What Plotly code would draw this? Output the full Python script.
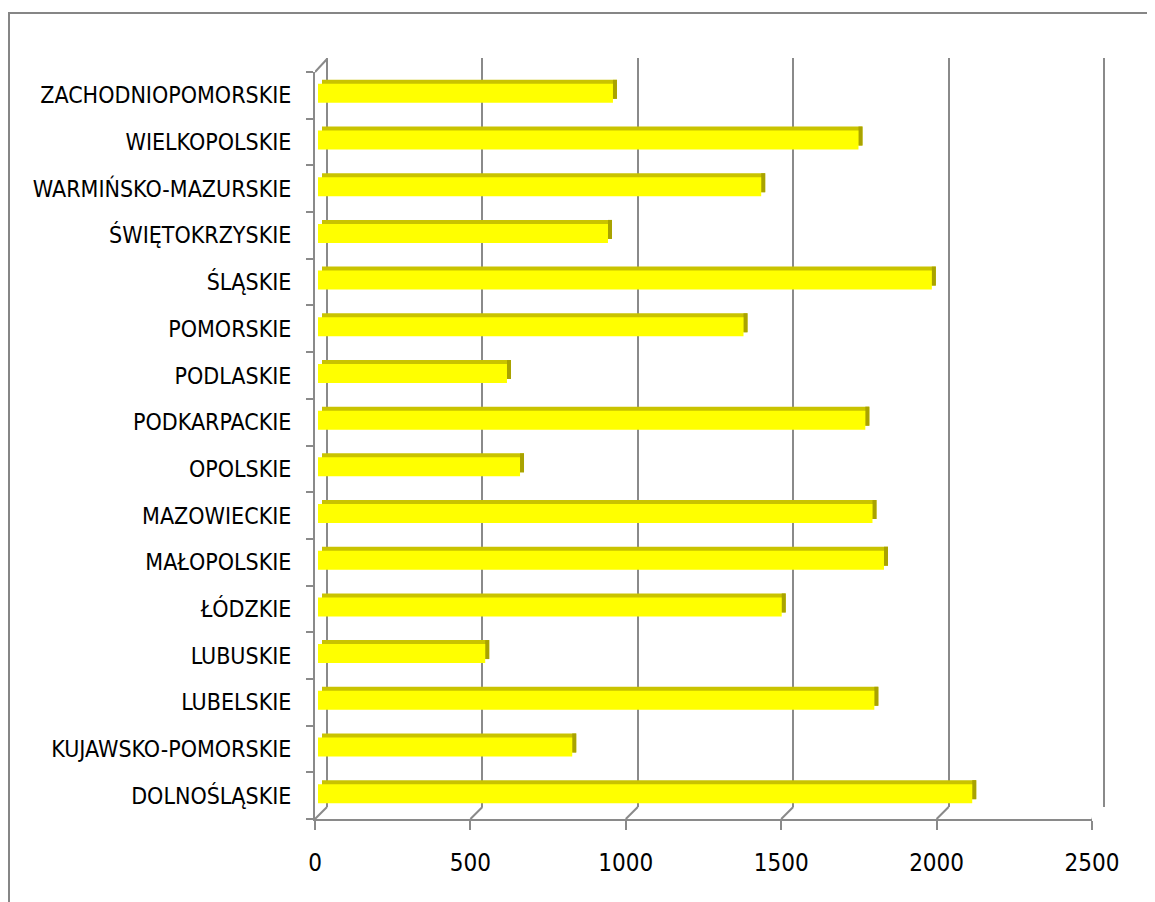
import plotly.graph_objects as go

# ---- data (bottom to top, as drawn) ----
categories = ["DOLNOŚLĄSKIE", "KUJAWSKO-POMORSKIE", "LUBELSKIE", "LUBUSKIE", "ŁÓDZKIE",
              "MAŁOPOLSKIE", "MAZOWIECKIE", "OPOLSKIE", "PODKARPACKIE", "PODLASKIE",
              "POMORSKIE", "ŚLĄSKIE", "ŚWIĘTOKRZYSKIE", "WARMIŃSKO-MAZURSKIE",
              "WIELKOPOLSKIE", "ZACHODNIOPOMORSKIE"]
values = [2105, 818, 1790, 538, 1492, 1821, 1784, 650, 1761, 608,
          1369, 1975, 933, 1426, 1739, 949]
x_ticks = [0, 500, 1000, 1500, 2000, 2500]
x_tick_labels = ["0", "500", "1000", "1500", "2000", "2500"]

# ---- geometry (screen pixels) ----
BODY = 8                          # default page margin of the browser
W, H = 1155 - BODY, 902 - BODY    # figure size
FRONT_L, FRONT_R = 315, 1092      # front plane x for 0 and 2500
FRONT_T, FRONT_B = 72, 819        # front plane y extent
DEPTH = 12                        # 3D depth offset in px
BAR_SHIFT = 3                     # bars sit slightly behind front plane
XMAX = 2500
k = (FRONT_R - FRONT_L) / XMAX    # px per unit

def fx(px):
    return (px - BODY) / W

def fy(py):
    return 1 - (py - BODY) / H

FONT = "Liberation Sans Narrow, Arial Narrow, DejaVu Sans Condensed, sans-serif"
GRID = "#8a8a8a"

slot = (FRONT_B - FRONT_T) / len(categories)
face_h = 19 / slot
face_off = 2 / slot - face_h / 2
top_off = face_off + 4 / slot
depth_units = 4 / k
n = len(values)

fig = go.Figure()

# invisible trace so the back-wall subplot is drawn
fig.add_trace(go.Scatter(x=[None], y=[None], xaxis="x", yaxis="y",
                         mode="markers", showlegend=False, hoverinfo="skip"))

# top face of the 3D bars
fig.add_trace(go.Bar(y=categories, x=values, base=[depth_units] * n, orientation="h",
                     xaxis="x3", yaxis="y2", width=face_h, offset=top_off,
                     marker=dict(color="#c9c300", line=dict(width=0)),
                     showlegend=False))
# side face
fig.add_trace(go.Bar(y=categories, x=[depth_units] * n, base=values, orientation="h",
                     xaxis="x3", yaxis="y2", width=face_h, offset=top_off,
                     marker=dict(color="#a9a300", line=dict(width=0)),
                     showlegend=False))
# front face
fig.add_trace(go.Bar(y=categories, x=values, orientation="h",
                     xaxis="x3", yaxis="y2", width=face_h, offset=face_off,
                     marker=dict(color="#ffff00", line=dict(width=0)),
                     showlegend=False))

pad = 25
shapes = []
# outer chart border (top and left visible)
shapes.append(dict(type="rect", xref="paper", yref="paper",
                   x0=fx(9), x1=fx(1200), y0=fy(950), y1=fy(13),
                   line=dict(color="#868686", width=2), layer="below"))
# floor slants at each x tick
for v in x_ticks:
    shapes.append(dict(type="line", xref="x2", yref="paper",
                       x0=v, y0=fy(FRONT_B), x1=v + DEPTH / k, y1=fy(FRONT_B - DEPTH),
                       line=dict(color=GRID, width=2)))
# side wall slant at top-left
shapes.append(dict(type="line", xref="x2", yref="paper",
                   x0=0, y0=fy(FRONT_T), x1=DEPTH / k, y1=fy(FRONT_T - 13),
                   line=dict(color=GRID, width=2)))

fig.update_layout(
    template="none",
    width=W, height=H, autosize=False,
    margin=dict(l=0, r=0, t=0, b=0, pad=0),
    paper_bgcolor="white", plot_bgcolor="rgba(0,0,0,0)",
    barmode="overlay", showlegend=False,
    font=dict(family=FONT, color="#000000"),
    # back wall gridlines
    xaxis=dict(domain=[fx(FRONT_L + DEPTH - pad * k), fx(FRONT_R + DEPTH + pad * k)],
               range=[-pad, XMAX + pad], anchor="y",
               tickvals=x_ticks, showticklabels=False, ticks="",
               showgrid=True, gridcolor=GRID, gridwidth=2,
               zeroline=False, showline=False, fixedrange=True),
    yaxis=dict(domain=[fy(FRONT_B - DEPTH), fy(FRONT_T - 14)], range=[0, 1], anchor="x",
               visible=False, showgrid=False, zeroline=False, fixedrange=True),
    # front axes
    xaxis2=dict(domain=[fx(FRONT_L), fx(FRONT_R)], range=[0, XMAX], anchor="y2",
                tickvals=x_ticks, ticktext=x_tick_labels,
                ticks="outside", ticklen=9, tickwidth=2, tickcolor=GRID,
                showline=True, linecolor=GRID, linewidth=2,
                showgrid=False, zeroline=False,
                tickfont=dict(size=24, family=FONT, color="#000000"),
                ticklabelstandoff=12, automargin=False, fixedrange=True),
    yaxis2=dict(domain=[fy(FRONT_B), fy(FRONT_T)], anchor="x2", type="category",
                categoryorder="array", categoryarray=categories,
                range=[-0.5, len(categories) - 0.5],
                ticks="outside", ticklen=7, tickwidth=2, tickcolor=GRID,
                tickson="boundaries",
                showline=True, linecolor=GRID, linewidth=2,
                showgrid=False, zeroline=False,
                tickfont=dict(size=23, family=FONT, color="#000000"),
                ticklabelstandoff=17, automargin=False, fixedrange=True),
    xaxis3=dict(overlaying="x2", anchor="y2",
                range=[-BAR_SHIFT / k, XMAX - BAR_SHIFT / k],
                visible=False, showgrid=False, zeroline=False, fixedrange=True),
    shapes=shapes,
)

fig.write_html("out.html")
